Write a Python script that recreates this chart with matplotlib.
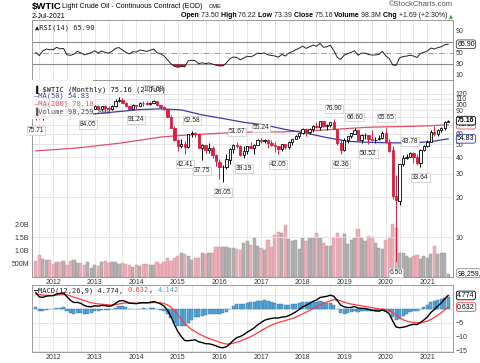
#!/usr/bin/env python3

import numpy as np
import pandas as pd
import matplotlib
matplotlib.use("Agg")
import matplotlib.pyplot as plt
from matplotlib.patches import Rectangle
from matplotlib.offsetbox import TextArea, HPacker, AnchoredOffsetbox

# monthly $WTIC bars, Aug 2011 .. Jul 2021 (index 0 = Aug 2011)
opens = [95.7, 88.8, 79.2, 93.2, 100.4,
         99.7, 98.5, 107.1, 103.0, 104.9, 86.5, 85.0, 88.1, 96.5, 92.2, 86.2, 88.9,
         91.8, 97.5, 92.1, 97.2, 93.5, 92.0, 96.6, 105.0, 107.7, 102.3, 96.4, 92.7,
         98.4, 97.5, 102.6, 101.6, 99.7, 102.7, 105.4, 98.2, 96.0, 91.2, 80.5, 66.2,
         53.3, 48.2, 49.8, 47.6, 59.6, 60.3, 59.5, 47.1, 49.2, 45.1, 46.6, 41.7,
         37.0, 33.6, 33.8, 38.3, 45.9, 49.1, 48.3, 41.6, 44.7, 48.2, 46.9, 49.4,
         53.7, 52.8, 54.0, 50.6, 49.3, 48.3, 46.0, 50.2, 47.2, 51.7, 54.4, 57.4,
         60.4, 64.7, 61.6, 64.9, 68.6, 67.0, 74.2, 68.8, 69.8, 73.3, 65.3, 50.9,
         45.4, 53.8, 57.2, 60.1, 63.9, 53.5, 58.5, 58.6, 55.1, 54.1, 54.2, 55.2,
         61.1, 51.6, 44.8, 20.5, 18.8, 35.5, 39.3, 40.3, 42.6, 40.2, 35.8, 45.3,
         48.5, 52.2, 61.5, 59.2, 63.6, 66.3, 73.50]
highs = [95.8, 90.5, 94.65, 103.37, 102.44,
         103.74, 109.95, 110.55, 106.0, 106.43, 86.8, 92.94, 98.29, 100.42, 93.0, 89.5, 91.9,
         98.24, 98.0, 97.7, 97.9, 97.0, 99.0, 108.9, 112.24, 110.7, 104.0, 96.7, 100.75,
         98.7, 103.8, 105.2, 104.99, 104.5, 107.68, 105.8, 99.4, 96.2, 92.2, 82.3, 68.1,
         54.7, 54.24, 52.5, 59.9, 62.58, 62.0, 59.9, 49.9, 49.5, 50.9, 48.4, 42.3,
         38.4, 34.7, 41.9, 46.8, 50.2, 51.67, 49.0, 48.8, 48.3, 51.9, 50.2, 54.5,
         55.24, 54.9, 54.6, 53.8, 52.0, 48.4, 50.4, 50.4, 52.9, 54.9, 59.05, 60.5,
         66.66, 66.4, 66.55, 69.56, 72.83, 74.46, 75.27, 70.4, 73.9, 76.90, 65.5, 54.6,
         55.4, 57.8, 60.7, 66.60, 63.9, 60.1, 60.9, 58.8, 63.38, 57.0, 58.8, 62.3,
         65.65, 54.7, 48.7, 29.13, 35.7, 41.6, 42.5, 43.78, 43.4, 41.9, 46.3, 49.4,
         53.9, 63.8, 67.98, 65.5, 67.0, 74.5, 76.22]
lows = [75.71, 77.1, 76.0, 89.2, 92.52,
        96.75, 95.44, 102.16, 101.25, 86.0, 77.28, 83.65, 87.0, 90.0, 84.8, 84.05, 84.8,
        91.5, 90.6, 89.0, 85.6, 89.4, 91.1, 96.0, 103.0, 101.5, 95.9, 91.8, 92.2,
        91.24, 96.8, 97.4, 98.0, 98.3, 101.6, 97.0, 92.5, 90.4, 79.78, 65.69, 52.7,
        44.2, 47.0, 42.41, 47.0, 56.5, 57.0, 46.7, 37.75, 42.6, 43.2, 38.99, 34.5,
        27.56, 26.05, 32.5, 35.2, 43.0, 46.7, 40.6, 39.19, 42.5, 46.4, 42.2, 49.3,
        50.7, 51.2, 47.1, 48.2, 43.8, 42.05, 44.3, 45.6, 46.0, 49.1, 54.2, 55.8,
        59.9, 58.07, 59.95, 62.0, 66.1, 63.6, 67.0, 64.4, 67.6, 64.9, 49.4, 42.36,
        44.35, 51.2, 55.4, 60.1, 53.1, 50.6, 54.7, 50.52, 52.8, 50.99, 54.0, 55.0,
        50.6, 43.9, 19.27, 6.50, 17.3, 34.4, 38.7, 40.0, 36.1, 34.9, 33.64, 44.4,
        47.2, 51.6, 57.3, 57.6, 61.6, 64.2, 73.39]
closes = [88.81, 79.20, 93.19, 100.36, 98.83,
          98.48, 107.07, 103.02, 104.87, 86.53, 84.96, 88.06, 96.47, 92.19, 86.24, 88.91, 91.82,
          97.49, 92.05, 97.23, 93.46, 91.97, 96.56, 105.03, 107.65, 102.33, 96.38, 92.72, 98.42,
          97.49, 102.59, 101.58, 99.74, 102.71, 105.37, 98.17, 95.96, 91.16, 80.54, 66.15, 53.27,
          48.24, 49.76, 47.60, 59.63, 60.30, 59.47, 47.12, 49.20, 45.09, 46.59, 41.65, 37.04,
          33.62, 33.75, 38.34, 45.92, 49.10, 48.33, 41.60, 44.70, 48.24, 46.86, 49.44, 53.72,
          52.81, 54.01, 50.60, 49.33, 48.32, 46.04, 50.17, 47.23, 51.67, 54.38, 57.40, 60.42,
          64.73, 61.64, 64.94, 68.57, 67.04, 74.15, 68.76, 69.80, 73.25, 65.31, 50.93, 45.41,
          53.79, 57.22, 60.14, 63.91, 53.50, 58.47, 58.58, 55.10, 54.07, 54.18, 55.17, 61.06,
          51.56, 44.76, 20.48, 18.84, 35.49, 39.27, 40.27, 42.61, 40.22, 35.79, 45.34, 48.52,
          52.20, 61.50, 59.16, 63.58, 66.32, 73.47, 75.16]
# volume in billions
volumes = [0.61, 0.84, 0.67, 0.63, 0.63,
           0.48, 0.57, 0.57, 0.59, 0.46, 0.61, 0.63, 0.54, 0.52, 0.46, 0.57, 0.35,
           0.46, 0.43, 0.57, 0.61, 0.54, 0.57, 0.57, 0.48, 0.54, 0.48, 0.44, 0.38,
           0.46, 0.42, 0.51, 0.51, 0.46, 0.46, 0.57, 0.48, 0.57, 0.70, 0.61, 0.70,
           0.80, 0.92, 0.86, 0.80, 0.65, 0.70, 0.73, 0.89, 0.86, 0.89, 0.92, 1.14,
           1.14, 1.14, 1.14, 1.08, 1.10, 1.05, 1.01, 1.28, 1.37, 1.20, 1.49, 1.18,
           1.11, 1.01, 1.39, 1.14, 1.58, 1.71, 1.66, 1.96, 1.43, 1.37, 1.39, 1.05,
           1.46, 1.37, 1.46, 1.49, 1.68, 1.46, 1.27, 1.18, 1.18, 1.46, 1.68, 1.46,
           1.62, 1.24, 1.39, 1.49, 1.81, 1.46, 1.37, 1.56, 1.52, 1.30, 1.11, 1.05,
           1.39, 1.53, 2.00, 1.87, 0.89, 0.89, 0.80, 0.73, 0.80, 0.82, 0.67, 0.80,
           0.73, 0.86, 1.18, 0.86, 0.90, 0.92, 0.10]
# closes before the window, Jan 2004 .. Jul 2011, used to warm up RSI and MACD
prior_closes = [33.05, 36.16, 35.76, 37.38, 39.88, 37.05, 43.80, 42.12, 49.64, 51.76, 49.13, 43.45,
                48.20, 51.75, 55.40, 49.72, 51.97, 56.50, 60.57, 68.94, 66.24, 59.76, 57.32, 61.04,
                67.92, 61.41, 66.63, 71.88, 71.29, 73.93, 74.40, 70.26, 62.91, 58.73, 62.97, 61.05,
                58.14, 61.79, 65.87, 65.71, 64.01, 70.68, 78.21, 74.04, 81.66, 94.53, 88.71, 95.98,
                91.75, 101.84, 101.58, 113.46, 127.35, 140.00, 124.08, 115.46, 100.64, 67.81, 54.43, 44.60,
                41.68, 44.76, 49.66, 51.12, 66.31, 69.89, 69.45, 69.96, 70.61, 77.00, 77.28, 79.36,
                72.89, 79.66, 83.76, 86.15, 73.97, 75.63, 78.95, 71.92, 79.97, 81.43, 84.11, 91.38,
                92.19, 96.97, 106.72, 113.93, 102.70, 95.42, 95.70]

# moving averages at every 6th bar
ma_idx = [0, 6, 12, 18, 24, 30, 36, 42, 48, 54, 60, 66, 72, 78, 84, 90, 96, 102, 108, 114, 119]
ma50 = [80.0, 81.5, 83.0, 85.0, 88.0, 91.0, 92.2, 90.5, 83.0, 78.0, 73.0, 69.8,
        64.5, 60.5, 56.0, 52.5, 51.6, 51.2, 51.0, 52.2, 54.83]
ma200 = [44.5, 45.6, 46.8, 48.7, 50.8, 53.5, 56.5, 58.2, 59.4, 60.6, 61.5, 61.7,
         61.9, 62.9, 64.1, 65.6, 67.0, 67.6, 68.0, 68.8, 70.10]

# swing labels: bar index, text, placed above the high or below the low
swing_idx = [0, 15, 29, 34, 43, 45, 48, 54, 58, 60, 65, 70, 86, 88, 92, 96, 101, 104, 108, 111]
swing_txt = ["75.71", "84.05", "91.24", "107.68", "42.41", "62.58", "37.75", "26.05", "51.67", "39.19",
             "55.24", "42.05", "76.90", "42.36", "66.60", "50.52", "65.65", "6.50", "43.78", "33.64"]
swing_side = ["low", "low", "low", "high", "low", "high", "low", "low", "high", "low",
              "high", "low", "high", "low", "high", "low", "high", "low", "high", "low"]

years = ["2012", "2013", "2014", "2015", "2016", "2017", "2018", "2019", "2020", "2021"]
year_idx = [5 + 12 * k for k in range(len(years))]
grid_idx = list(range(1, 121, 4))

W, H = 480, 363
RED = "#dc1e3c"
MA50_C = "#3a3aaa"
MA200_C = "#e0506a"
GRID = "#e2e2e2"
SANS = "Liberation Sans"
MONO = "DejaVu Sans Mono"


def rect(top, bottom):
    return [32 / W, 1 - bottom / H, 421 / W, (bottom - top) / H]


def px(x, y):
    return x / W, 1 - y / H


def rich(fig, parts, xy, loc):
    kids = [TextArea(s, textprops=p) for s, p in parts]
    box = HPacker(children=kids, align="baseline", pad=0, sep=0)
    ab = AnchoredOffsetbox(loc=loc, child=box, pad=0, borderpad=0, frameon=False,
                           bbox_to_anchor=px(*xy), bbox_transform=fig.transFigure)
    fig.add_artist(ab)


def tag(ax, y, text, ec, trans=None, bold=False):
    ax.annotate(text, xy=(1, y), xycoords=trans or ax.get_yaxis_transform(),
                xytext=(3, 0), textcoords="offset points", fontsize=5, family=SANS,
                weight="bold" if bold else "normal", va="center", ha="left",
                bbox=dict(boxstyle="round,pad=0.12,rounding_size=0.3", fc="white", ec=ec, lw=0.6),
                annotation_clip=False, zorder=10)


def style_axes(ax):
    for s in ax.spines.values():
        s.set_color("#9a9a9a")
        s.set_linewidth(0.7)
    ax.tick_params(length=0, labelsize=5, colors="#333333", pad=2)
    for lab in ax.get_xticklabels() + ax.get_yticklabels():
        lab.set_family(SANS)


def vgrid(ax):
    for g in grid_idx:
        ax.axvline(g, color=GRID, lw=0.6, zorder=0)


n = len(closes)
x = np.arange(n)
xlim = (-1.1, 120.4)

all_close = pd.Series(prior_closes + closes)
delta = all_close.diff()
gain = delta.clip(lower=0).ewm(alpha=1 / 14, adjust=False).mean()
loss = (-delta.clip(upper=0)).ewm(alpha=1 / 14, adjust=False).mean()
rsi = (100 - 100 / (1 + gain / loss)).values[-n:]
ema12 = all_close.ewm(span=12, adjust=False).mean()
ema26 = all_close.ewm(span=26, adjust=False).mean()
macd_full = ema12 - ema26
signal_full = macd_full.ewm(span=9, adjust=False).mean()
macd = macd_full.values[-n:]
signal = signal_full.values[-n:]
hist = macd - signal

prev_close = np.r_[prior_closes[-1], closes[:-1]]
up = np.array(closes) >= prev_close

fig = plt.figure(figsize=(W / 100, H / 100), dpi=100)
fig.patch.set_facecolor("white")

# header
fig.text(*px(32, 1.5), "$WTIC", family=SANS, weight="bold", size=6.8, va="top")
fig.text(*px(62, 3), "Light Crude Oil - Continuous Contract (EOD)", family=SANS, size=5, va="top")
fig.text(*px(209, 3.6), "CME", family=SANS, size=4.2, va="top")
fig.text(*px(32, 12.5), "2-Jul-2021", family=SANS, size=5, va="top")
fig.text(*px(453, 1.5), "\u00a9StockCharts.com", family=SANS, size=5.5, color="#555555",
         va="top", ha="right")
b = dict(family=SANS, size=5, weight="bold", color="black")
r = dict(family=SANS, size=5, color="#222222")
rich(fig, [("Open ", b), ("73.50 ", r), ("High ", b), ("76.22 ", r), ("Low ", b), ("73.39 ", r),
           ("Close ", b), ("75.16 ", r), ("Volume ", b), ("98.3M ", r), ("Chg ", b),
           ("+1.69 (+2.30%) ", r), ("\u25b2", dict(family="DejaVu Sans", size=3.5, color="#1a9a1a"))],
     (453, 12), "upper right")

# RSI panel
ax_rsi = fig.add_axes(rect(20, 80))
ax_rsi.set_xlim(*xlim)
ax_rsi.set_ylim(0.9, 110)
vgrid(ax_rsi)
ax_rsi.axhline(70, color="#8a8a8a", lw=0.8, zorder=1)
ax_rsi.axhline(30, color="#8a8a8a", lw=0.8, zorder=1)
ax_rsi.axhline(50, color="#9a9a9a", lw=0.7, ls=(0, (6, 2, 1, 2)), zorder=1)
ax_rsi.plot(x, rsi, color="#222222", lw=0.7, zorder=3)
ax_rsi.fill_between(x, rsi, 30, where=rsi < 30, interpolate=True, color="#a03040", lw=0, zorder=2)
ax_rsi.fill_between(x, rsi, 70, where=rsi > 70, interpolate=True, color="#4a6ac8", lw=0, zorder=2)
ax_rsi.yaxis.tick_right()
ax_rsi.set_yticks([10, 30, 50, 90])
ax_rsi.set_xticks([])
style_axes(ax_rsi)
tag(ax_rsi, 65.90, "65.90", "#444444")
ax_rsi.text(0.008, 0.93, "\u25b2RSI(14) 65.90", transform=ax_rsi.transAxes, family=MONO, size=5,
            va="top", color="#222222")

# volume, drawn behind the price panel
ax_vol = fig.add_axes(rect(80, 277))
ax_vol.set_xlim(*xlim)
ax_vol.set_ylim(0, 7.45)
vgrid(ax_vol)
ax_vol.bar(x[up], np.array(volumes)[up], width=0.92, color="#b3b3b3", edgecolor="#8f8f8f", lw=0.3, zorder=2)
ax_vol.bar(x[~up], np.array(volumes)[~up], width=0.92, color="#eab0b9", edgecolor="#d88c99", lw=0.3, zorder=2)
ax_vol.set_yticks([0.5, 1.0, 1.5, 2.0])
ax_vol.set_yticklabels(["500M", "1.0B", "1.5B", "2.0B"])
ax_vol.set_xticks([])
style_axes(ax_vol)

# price panel
ax = fig.add_axes(rect(80, 277))
ax.patch.set_visible(False)
ax.set_yscale("log")
ax.set_ylim(5.0, 152)
ax.set_xlim(*xlim)
pticks = [10, 20, 30, 40, 50, 60, 90, 100, 110, 120]
ax.yaxis.tick_right()
ax.set_yticks(pticks)
ax.set_yticklabels([str(t) for t in pticks])
ax.minorticks_off()
for t in [10, 20, 30, 40, 50, 60, 70, 80, 90, 100, 110, 120]:
    ax.axhline(t, color=GRID, lw=0.6, zorder=0)
ax.set_xticks(year_idx)
ax.set_xticklabels(years)
ax.plot(ma_idx, ma200, color=MA200_C, lw=0.9, zorder=2)
ax.plot(ma_idx, ma50, color=MA50_C, lw=0.9, zorder=2)
for i in x:
    col = "black" if up[i] else RED
    hollow = closes[i] > opens[i]
    ax.vlines(i, lows[i], highs[i], color=col, lw=0.7, zorder=3)
    lo, hi = sorted((opens[i], closes[i]))
    ax.add_patch(Rectangle((i - 0.33, lo), 0.66, max(hi - lo, 0.05), zorder=4,
                           facecolor="white" if hollow else col, edgecolor=col, lw=0.6))
for i, t, s in zip(swing_idx, swing_txt, swing_side):
    yv = highs[i] if s == "high" else lows[i]
    ax.annotate(t, xy=(i, yv), xytext=(0, 5 if s == "high" else -5), textcoords="offset points",
                ha="center", va="bottom" if s == "high" else "top", fontsize=4.8, family=SANS,
                color="#222222", zorder=6,
                bbox=dict(boxstyle="square,pad=0.12", fc="white", ec="#c8c8c8", lw=0.5))
style_axes(ax)
ax.tick_params(axis="x", pad=1.5)
tag(ax, 70.10, "70.10", MA200_C)
tag(ax, 75.16, "75.16", "black", bold=True)
tag(ax, 54.83, "54.83", MA50_C)
tag(ax, 0.02, "98,259,800", "#888888", trans=ax.transAxes)

# legend block with a white backing
ax.add_patch(Rectangle((0, 0.80), 0.145, 0.20, transform=ax.transAxes, fc="white", ec="none",
                       alpha=0.9, zorder=7))
legend_rows = [("\u2590 $WTIC (Monthly) 75.16 (2 Jul)", "#111111"),
               ("\u2014MA(50) 54.83", MA50_C),
               ("\u2014MA(200) 70.10", MA200_C),
               ("\u2590Volume 98,259,800", "#555555")]
for k, (t, c) in enumerate(legend_rows):
    ax.text(0.004, 0.972 - k * 0.037, t, transform=ax.transAxes, family=MONO, size=5, color=c,
            va="top", zorder=8)

# MACD panel
ax_m = fig.add_axes(rect(285, 352))
ax_m.set_xlim(*xlim)
ax_m.set_ylim(-15.4, 8.5)
vgrid(ax_m)
for t in [5, 0, -5, -10, -15]:
    ax_m.axhline(t, color=GRID, lw=0.6, zorder=0)
ax_m.bar(x, hist, width=0.9, color="#58a4d4", edgecolor="#2c74a6", lw=0.3, zorder=2)
ax_m.plot(x, signal, color="#ff3b3b", lw=0.9, zorder=3)
ax_m.plot(x, macd, color="black", lw=1.0, zorder=4)
ax_m.yaxis.tick_right()
ax_m.set_yticks([-5, -10, -15])
ax_m.set_xticks(year_idx)
ax_m.set_xticklabels(years)
style_axes(ax_m)
ax_m.tick_params(axis="x", pad=1.5)
tag(ax_m, 0.632, "0.632", "#ff3b3b")
tag(ax_m, 4.774, "4.774", "black")
mono = dict(family=MONO, size=5)
rich(fig, [("\u2014", dict(mono, color="black", weight="bold")), ("MACD(12,26,9) 4.774, ", dict(mono, color="#222222")),
           ("0.632", dict(mono, color="#ff3b3b")), (", ", dict(mono, color="#222222")),
           ("4.142", dict(mono, color="#3a9ad6"))], (34, 287), "upper left")

fig.savefig("out.png", dpi=100, facecolor="white")
